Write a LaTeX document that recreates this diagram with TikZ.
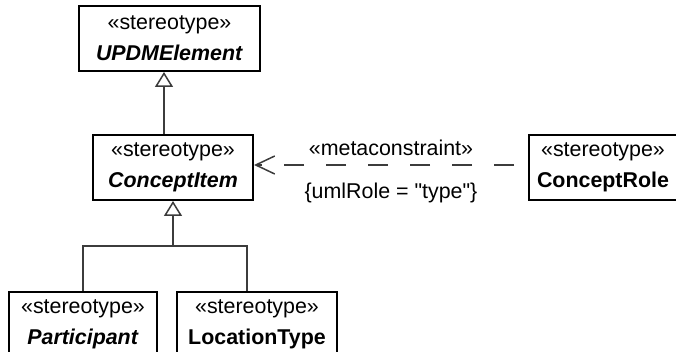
\documentclass[tikz,border=0pt]{standalone}
\usepackage{fontspec}
\setmainfont{Liberation Sans}
\usepackage{tikz}
\usetikzlibrary{arrows.meta, positioning}
\definecolor{umlline}{RGB}{60,60,60}
\tikzset{
  stbox/.style ={rectangle, draw=black, line width=1pt, fill=white, align=center,
                 font=\fontsize{10.7}{15.5}\selectfont, minimum height=32.5pt, inner sep=0pt},
  lbl/.style   ={font=\fontsize{10.7}{13}\selectfont, inner sep=0pt},
  conn/.style  ={draw=umlline, line width=0.75pt},
  gen/.style   ={conn, -{Triangle[open, length=7.5pt, width=9pt]}},
  dep/.style   ={conn, dash pattern=on 10pt off 11pt, dash phase=14pt,
                 -{Straight Barb[length=9.5pt, width=9pt]}},
}
\begin{document}
\begin{tikzpicture}[x=1pt, y=1pt]
\useasboundingbox (0,0) rectangle (338,-176);
\node[stbox, minimum width=90.5pt] (upd) at (84.75,-19.25) {«stereotype»\\\textbf{\textit{UPDMElement}}};
\node[stbox, minimum width=80pt, below=31pt of upd, xshift=1.75pt] (item) {«stereotype»\\\textbf{\textit{ConceptItem}}};
\node[stbox, minimum width=74pt, right=137pt of item] (role) {«stereotype»\\\textbf{ConceptRole}};
\coordinate[below=22.5pt of item.south] (fork);
\node[stbox, minimum width=74pt, below=45pt of item.south, xshift=-45pt] (part) {«stereotype»\\\textbf{\textit{Participant}}};
\node[stbox, minimum width=80pt, below=45pt of item.south, xshift=42pt] (loc) {«stereotype»\\\textbf{LocationType}};
% generalizations
\draw[gen] ([xshift=-4.5pt]item.north) -- ([xshift=-2.75pt]upd.south);
\draw[gen] (fork) -- (item.south);
\draw[conn] (part.north) |- (fork) -| ([xshift=-5pt]loc.north);
% metaconstraint
\draw[dep] ([yshift=1.25pt]role.west) -- node[lbl, above=4.5pt] {«metaconstraint»}
  node[lbl, below=8.5pt] {\{umlRole = \textquotedbl type\textquotedbl\}} ([yshift=1.25pt]item.east);
\end{tikzpicture}
\end{document}
